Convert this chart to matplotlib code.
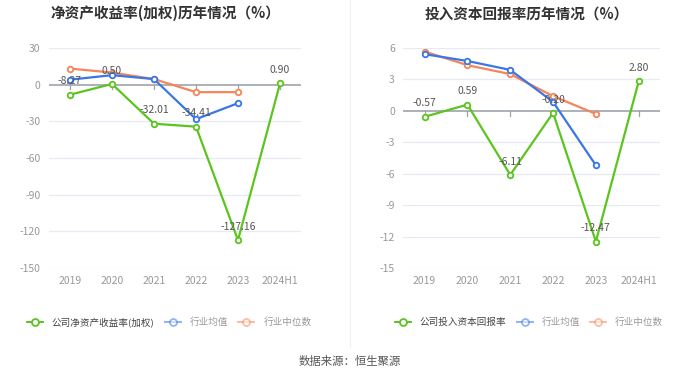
import matplotlib
matplotlib.use('Agg')
import matplotlib.pyplot as plt
from matplotlib.lines import Line2D

plt.rcParams['font.family'] = ['Noto Sans CJK SC', 'DejaVu Sans']

years = ['2019', '2020', '2021', '2022', '2023', '2024H1']

# 净资产收益率(加权)
roe_company = [-8.27, 0.50, -32.01, -34.41, -127.16, 0.90]
roe_mean = [4.0, 7.7, 4.5, -28.3, -15.2]
roe_median = [13.1, 9.8, 4.5, -6.2, -6.2]

# 投入资本回报率
roic_company = [-0.57, 0.59, -6.11, -0.20, -12.47, 2.80]
roic_mean = [5.4, 4.75, 3.9, 0.85, -5.2]
roic_median = [5.65, 4.35, 3.5, 1.4, -0.3]

GREEN = '#5cc41f'
BLUE = '#3b76e6'
ORANGE = '#f5855a'


def draw_panel(ax, company, mean, median, yticks):
    x = list(range(len(years)))
    xm = x[:len(mean)]
    kw = dict(marker='o', markersize=4, markerfacecolor='white', markeredgewidth=1.3, lw=1.6, zorder=3)
    ax.plot(xm, median, color=ORANGE, **kw)
    ax.plot(xm, mean, color=BLUE, **kw)
    ax.plot(x, company, color=GREEN, **kw)
    for i, v in enumerate(company):
        ax.annotate('%.2f' % v, (i, v), xytext=(0, 6), textcoords='offset points',
                    ha='center', va='bottom', fontsize=7.5, color='#555555', zorder=4)
    ax.set_xlim(-0.5, len(years) - 0.5)
    ax.set_ylim(yticks[0], yticks[-1])
    ax.set_yticks(yticks)
    ax.set_yticklabels([str(t) for t in yticks])
    ax.set_xticks(x)
    ax.set_xticklabels(years)
    ax.tick_params(axis='both', length=0, labelsize=7.5, labelcolor='#999999', pad=6)
    for t in yticks:
        if t != 0:
            ax.axhline(t, color='#e6ebf3', lw=0.9, zorder=1)
    ax.axhline(0, color='#9ea3ab', lw=1.2, zorder=2)
    # 零线下方的小刻度
    span = yticks[-1] - yticks[0]
    for i in x:
        ax.plot([i, i], [0, -span * 0.022], color='#9ea3ab', lw=0.9, zorder=2)
    for s in ax.spines.values():
        s.set_visible(False)


fig = plt.figure(figsize=(7, 3.77), dpi=100)

ax1 = fig.add_axes([0.07, 0.289, 0.36, 0.584])
draw_panel(ax1, roe_company, roe_mean, roe_median, [-150, -120, -90, -60, -30, 0, 30])

ax2 = fig.add_axes([0.576, 0.289, 0.367, 0.584])
draw_panel(ax2, roic_company, roic_mean, roic_median, [-15, -12, -9, -6, -3, 0, 3, 6])

fig.text(0.237, 0.965, '净资产收益率(加权)历年情况（%）', ha='center', va='center',
         fontsize=10.5, fontweight='bold', color='#333333')
fig.text(0.753, 0.965, '投入资本回报率历年情况（%）', ha='center', va='center',
         fontsize=10.5, fontweight='bold', color='#333333')

# 分隔线
fig.add_artist(Line2D([0.5, 0.5], [0.08, 1.0], color='#f0f0f0', lw=0.8))


def legend_items(x0, first_label, y=0.146):
    items = [(first_label, GREEN, 1.0, '#444444'),
             ('行业均值', BLUE, 0.55, '#999999'),
             ('行业中位数', ORANGE, 0.55, '#999999')]
    W = fig.bbox.width
    x = x0 / W
    for label, c, a, tc in items:
        fig.add_artist(Line2D([x, x + 16 / W], [y, y], color=c, lw=1.4, alpha=a))
        fig.add_artist(Line2D([x + 8 / W], [y], color=c, alpha=a, marker='o', markersize=5,
                              markerfacecolor='white', markeredgewidth=1.3, lw=0))
        t = fig.text(x + 25 / W, y, label, ha='left', va='center', fontsize=6.9, color=tc)
        fig.canvas.draw()
        bb = t.get_window_extent()
        x = (bb.x1 + 10) / W


legend_items(27, '公司净资产收益率(加权)')
legend_items(395, '公司投入资本回报率')

fig.text(0.5, 0.04, '数据来源：恒生聚源', ha='center', va='center', fontsize=8.2, color='#555555')

fig.savefig('out.png', dpi=100)
